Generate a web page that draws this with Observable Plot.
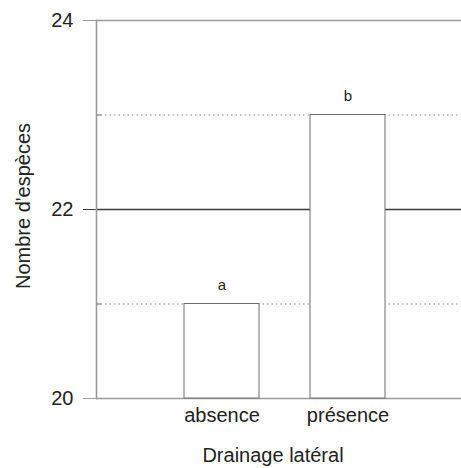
<!DOCTYPE html>
<html>
<head>
<meta charset="utf-8">
<script src="https://cdn.jsdelivr.net/npm/d3@7"></script>
<script src="https://cdn.jsdelivr.net/npm/@observablehq/plot@0.6"></script>
<style>
  html, body { margin: 0; padding: 0; background: #fff; }
  svg { display: block; }
</style>
</head>
<body>
<div id="chart"></div>
<script>
const categories = ["absence", "présence"];
const values = [21, 23];
const letters = ["a", "b"];
const majorTicks = [20, 22, 24];
const minorTicks = [21, 23];
const xTitle = "Drainage latéral";
const yTitle = "Nombre d'espèces";

const data = categories.map((c, i) => ({cat: c, value: values[i], letter: letters[i]}));
const font = "Liberation Sans, Arial, sans-serif";
const W = 461, ML = 96, MR = 0;
const frameW = W - ML - MR;

const chart = Plot.plot({
  width: W,
  height: 468,
  marginLeft: ML,
  marginRight: MR,
  marginTop: 20,
  marginBottom: 70,
  style: {fontFamily: font, background: "#fff", overflow: "visible"},
  x: {domain: categories, range: [184, 385], paddingInner: 0.405, paddingOuter: 0, axis: null},
  y: {domain: [20, 24], axis: null},
  marks: [
    // horizontal reference lines
    Plot.ruleY([20, 24], {stroke: "#9a9a9a", strokeWidth: 1.3}),
    Plot.ruleY([22], {stroke: "#3a3a3a", strokeWidth: 1.3}),
    Plot.ruleY(minorTicks, {insetLeft: 9, stroke: "#8a8a8a", strokeWidth: 1.2, strokeDasharray: "1.5,3"}),
    // minor ticks (inside)
    Plot.ruleY(minorTicks, {insetRight: frameW - 6, stroke: "#8a8a8a", strokeWidth: 1.3}),
    // left axis ticks & labels
    Plot.axisY(majorTicks, {anchor: "left", tickSize: 13, tickPadding: 10, stroke: "#9a9a9a", fontSize: 20, color: "#222", label: null, tickFormat: d => String(d)}),
    Plot.axisY([22], {anchor: "left", tickSize: 13, text: null, label: null, stroke: "#3a3a3a"}),
    // bars
    Plot.barY(data, {x: "cat", y1: 20, y2: "value", fill: "white", stroke: "#6e6e6e", strokeWidth: 1}),
    Plot.text(data, {x: "cat", y: "value", text: "letter", dy: -19, fontSize: 15, fill: "#222"}),
    // y axis line
    Plot.frame({anchor: "left", stroke: "#9a9a9a", strokeWidth: 1.6}),
    // x labels
    Plot.axisX(categories, {anchor: "bottom", tickSize: 0, tickPadding: 9, fontSize: 20, color: "#222", label: null}),
    // titles
    Plot.text([xTitle], {frameAnchor: "bottom", textAnchor: "middle", lineAnchor: "middle", dy: 57, dx: -6, fontSize: 20, fill: "#222"}),
    Plot.text([yTitle], {frameAnchor: "left", textAnchor: "middle", lineAnchor: "middle", dx: -73, dy: -3.5, rotate: -90, fontSize: 20, fill: "#222"})
  ]
});
document.getElementById("chart").append(chart);
</script>
</body>
</html>
